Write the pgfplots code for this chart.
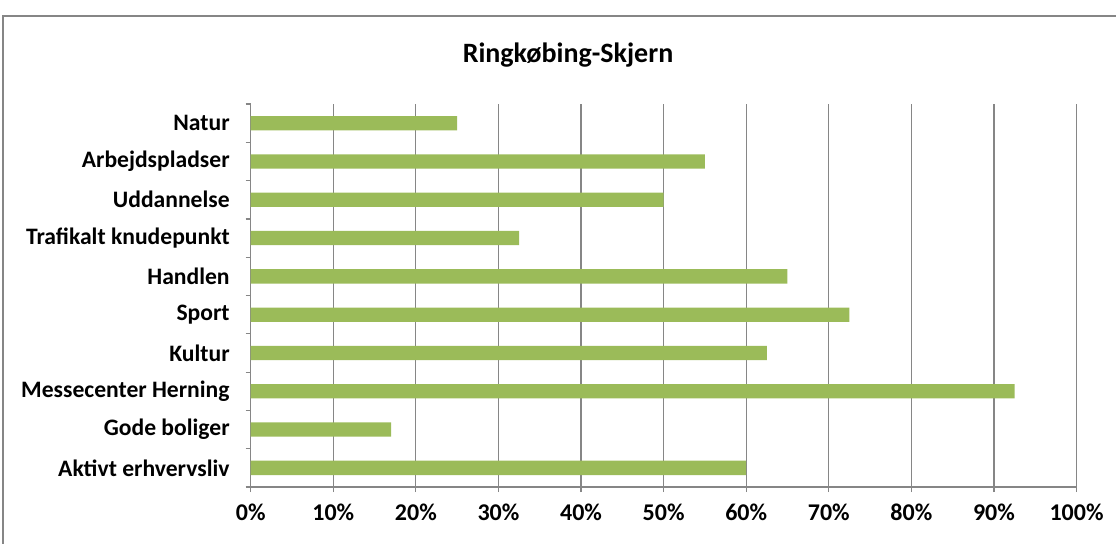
\documentclass[border=0pt]{standalone}
\usepackage{fontspec}
\setmainfont{Carlito}
\usepackage{pgfplots}
\pgfplotsset{compat=1.18}
\definecolor{bargreen}{HTML}{9BBB59}
\definecolor{gridgray}{HTML}{868686}
\begin{document}
\begin{tikzpicture}
\useasboundingbox (0,0) rectangle (558pt,-271.5pt);
\draw[gridgray, line width=1pt] (1.7pt,-300pt) -- (1.7pt,-8pt) -- (600pt,-8pt);
\node[font=\fontsize{14}{16}\selectfont\bfseries] at (284pt,-27.5pt) {Ringkøbing-Skjern};
\begin{axis}[
  at={(125.35pt,-243.5pt)}, anchor=south west,
  width=412.9pt, height=191.5pt, scale only axis,
  xmin=0, xmax=100, ymin=0.5, ymax=10.5,
  xbar, bar width=7.15pt,
  axis x line=bottom, axis y line=left,
  axis line style={gridgray, line width=0.6pt, -},
  xtick={0,10,...,100},
  xticklabel={\pgfmathprintnumber{\tick}\%},
  /pgf/number format/assume math mode=true,
  xticklabel style={font=\fontsize{12}{14}\selectfont\bfseries, yshift=-5pt},
  ytick={1,...,10},
  yticklabels={Aktivt erhvervsliv,Gode boliger,Messecenter Herning,Kultur,Sport,Handlen,Trafikalt knudepunkt,Uddannelse,Arbejdspladser,Natur},
  yticklabel style={font=\fontsize{11.8}{14}\selectfont\bfseries, xshift=-7pt},
  minor ytick={0.5,1.5,...,10.5},
  major tick length=0pt,
  minor tick length=2.5pt,
  tick align=outside,
  extra x ticks={0,10,...,100}, extra x tick labels={},
  extra x tick style={major tick length=2.5pt, tick style={gridgray, line width=0.6pt}, grid=none},
  tick style={gridgray, line width=0.6pt},
  xmajorgrids, grid style={gridgray, line width=0.6pt},
  clip=false,
]
\addplot[fill=bargreen, draw=none] coordinates {
(60,1) (17,2) (92.5,3) (62.5,4) (72.5,5) (65,6) (32.5,7) (50,8) (55,9) (25,10)
};
\end{axis}
\end{tikzpicture}
\end{document}
